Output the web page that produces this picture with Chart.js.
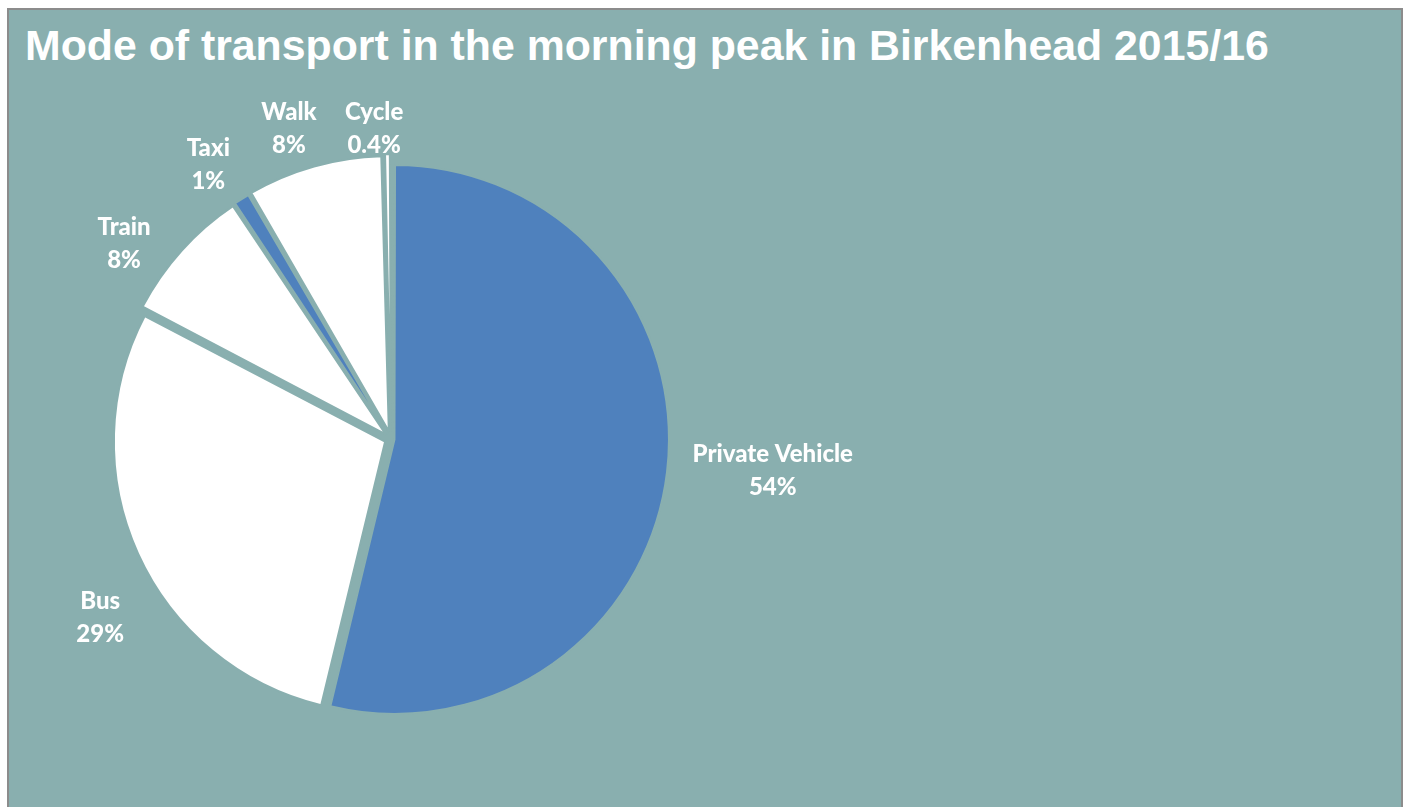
<!DOCTYPE html>
<html>
<head>
<meta charset="utf-8">
<script src="https://cdn.jsdelivr.net/npm/chart.js@4.4.1/dist/chart.umd.min.js"></script>
<style>
  html, body { margin: 0; padding: 0; background: #ffffff; overflow: hidden; }
  #frame {
    position: absolute; left: 7px; top: 8px; width: 1396px; height: 830px;
    box-sizing: border-box; border: 2px solid #8c8c8c; background: #89afaf;
  }
  #titulo {
    position: absolute; left: 25px; top: 24px; margin: 0;
    font-family: "Liberation Sans", Arial, sans-serif; font-weight: bold;
    font-size: 42.8px; line-height: 1; color: #ffffff; white-space: nowrap;
  }
  #grafico { position: absolute; left: 0; top: 0; }
</style>
</head>
<body>
<div id="frame"></div>
<h1 id="titulo">Mode of transport in the morning peak in Birkenhead 2015/16</h1>
<canvas id="grafico" width="1406" height="807"></canvas>
<script>
// dados do grafico
const categorias = ['Private Vehicle', 'Bus', 'Train', 'Taxi', 'Walk', 'Cycle'];
const percentuais = [54, 29, 8, 1, 8, 0.4];
const rotulos = ['54%', '29%', '8%', '1%', '8%', '0.4%'];

const azul = '#4f81bd';
const branco = '#ffffff';
const fundo = '#89afaf';

// ajuste fino de cada rotulo: [graus a partir do meio da fatia, distancia alem do raio]
const ajusteRotulos = [[-2.2, 112], [-7.1, 70], [-5.7, 60], [-1.7, 59], [-2.4, 56], [-2.4, 40]];

const rotulosPlugin = {
  id: 'rotulos',
  afterDatasetsDraw(chart) {
    const ctx = chart.ctx;
    const meta = chart.getDatasetMeta(0);
    ctx.save();
    ctx.fillStyle = '#ffffff';
    ctx.font = '900 24px Lato, "Open Sans", sans-serif';
    ctx.textAlign = 'center';
    ctx.textBaseline = 'alphabetic';
    meta.data.forEach((arc, i) => {
      const p = arc.getProps(['x', 'y', 'startAngle', 'endAngle', 'outerRadius'], true);
      const aj = ajusteRotulos[i];
      const ang = (p.startAngle + p.endAngle) / 2 + aj[0] * Math.PI / 180;
      const dist = p.outerRadius + aj[1];
      const cx = p.x + Math.cos(ang) * dist;
      const cy = p.y + Math.sin(ang) * dist;
      ctx.fillText(categorias[i], cx, cy - 8);
      ctx.fillText(rotulos[i], cx, cy + 25);
    });
    ctx.restore();
  }
};

const data = {
  labels: categorias,
  datasets: [{
    data: percentuais,
    backgroundColor: [azul, branco, branco, azul, branco, branco],
    borderColor: fundo,
    borderWidth: 2,
    offset: [14, 26, 28, 24, 32, 28]
  }]
};

const config = {
  type: 'pie',
  data: data,
  options: {
    responsive: false,
    devicePixelRatio: 1,
    animation: false,
    radius: 271,
    layout: { padding: { left: 40, right: 664, top: 100, bottom: 29 } },
    plugins: {
      legend: { display: false },
      tooltip: { enabled: false },
      title: { display: false }
    }
  },
  plugins: [rotulosPlugin]
};

const meuGrafico = new Chart(document.getElementById('grafico'), config);
</script>
</body>
</html>
